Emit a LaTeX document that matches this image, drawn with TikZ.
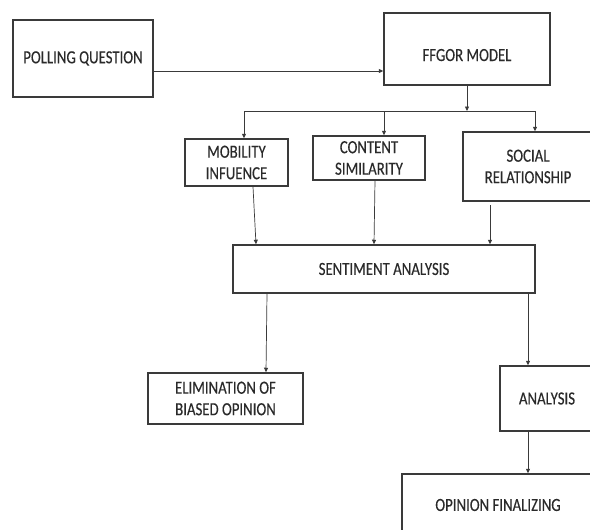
\documentclass[tikz,border=0pt]{standalone}
\usepackage{fontspec}
\setmainfont[FakeStretch=0.8,FakeBold=0.25]{Carlito}
\usetikzlibrary{arrows.meta}
\definecolor{ln}{HTML}{3A3A3A}
\definecolor{tx}{HTML}{2A2A2A}
\begin{document}
\begin{tikzpicture}[x=1pt,y=-1pt,
  box/.style={draw=ln,line width=1.5pt,rectangle,inner sep=0pt,text=tx,align=center,
    font=\fontsize{18.5}{21.5}\selectfont},
  arr/.style={draw=ln,line width=0.7pt,-{Triangle[length=4.5pt,width=4pt]}},
  ln/.style={draw=ln,line width=0.7pt}]
\useasboundingbox (0,0) rectangle (590,530);
\clip (0,0) rectangle (590,530);
\fill[white] (0,0) rectangle (590,530);
% boxes
\node[box,minimum width=140pt,minimum height=77pt] (poll) at (83,58.5) {POLLING QUESTION};
\node[box,minimum width=166pt,minimum height=72pt] (ffgor) at (467,49) {\raisebox{-12pt}[0pt][0pt]{FFGOR MODEL}};
\node[box,minimum width=103pt,minimum height=47pt] (mob) at (236.5,162.5) {MOBILITY\\INFUENCE};
\node[box,minimum width=112pt,minimum height=44pt] (cont) at (369,158) {CONTENT\\SIMILARITY};
\node[box,minimum width=130pt,minimum height=69pt] (soc) at (528,166.5) {SOCIAL\\RELATIONSHIP};
\node[box,minimum width=302pt,minimum height=48pt] (sent) at (384,269) {SENTIMENT ANALYSIS};
\node[box,minimum width=155pt,minimum height=51pt] (elim) at (225.5,398.5) {ELIMINATION OF\\BIASED OPINION};
\node[box,minimum width=94pt,minimum height=65pt] (anal) at (547,398.5) {ANALYSIS};
\node[box,minimum width=192pt,minimum height=62pt] (opin) at (498,505) {OPINION FINALIZING};
% helper coordinates
\coordinate (hy) at (0,71);
\coordinate (b1) at (244,111);
\coordinate (b2) at (384,111);
\coordinate (b3) at (535,111);
\coordinate (bt) at (467,111);
\coordinate (s3) at (490,205);
% connectors
\draw[arr] (poll.east |- hy) -- (ffgor.west |- hy);
\draw[arr] (ffgor.south -| bt) -- (bt);
\draw[ln] (b1) -- (b3);
\draw[arr] (b1) -- (b1 |- mob.north);
\draw[arr] (b2) -- (b2 |- cont.north);
\draw[arr] (b3) -- (b3 |- soc.north);
\draw[arr] ([xshift=16.5pt]mob.south) -- ([xshift=-128pt]sent.north);
\draw[arr] ([xshift=6pt]cont.south) -- ([xshift=-10pt]sent.north);
\draw[arr] (s3) -- (s3 |- sent.north);
\draw[arr] ([xshift=-117pt]sent.south) -- ([xshift=40.5pt]elim.north);
\draw[arr] ([xshift=144pt]sent.south) -- ([xshift=-19pt]anal.north);
\draw[arr] ([xshift=-19pt]anal.south) -- ([xshift=30pt]opin.north);
\end{tikzpicture}
\end{document}
